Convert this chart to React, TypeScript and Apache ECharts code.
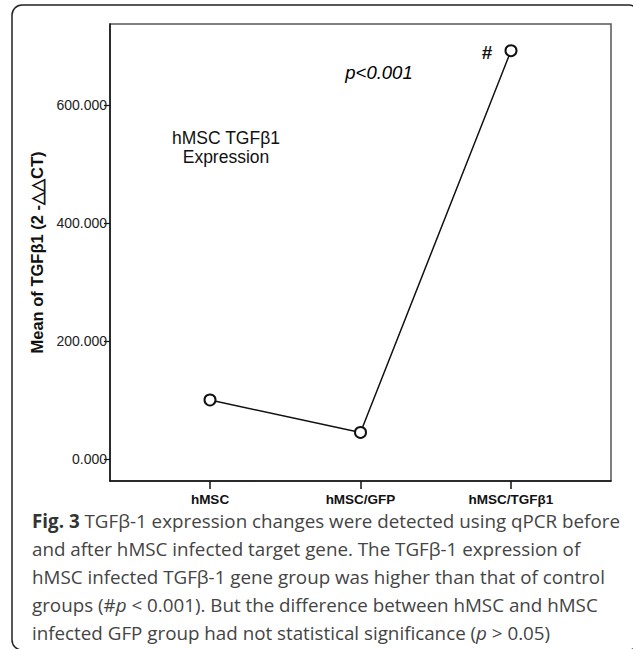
import React, { useEffect, useRef } from "react";
import * as echarts from "echarts";

const categories = ["hMSC", "hMSC/GFP", "hMSC/TGFβ1"];
const meanValues = [100, 45, 692];
const yTicks = [0, 200, 400, 600];
const captionLines = [
  "{b|Fig. 3} TGFβ-1 expression changes were detected using qPCR before",
  "and after hMSC infected target gene. The TGFβ-1 expression of",
  "hMSC infected TGFβ-1 gene group was higher than that of control",
  "groups (#{i|p} < 0.001). But the difference between hMSC and hMSC",
  "infected GFP group had not statistical significance ({i|p} > 0.05)",
];

export default function App() {
  const ref = useRef<HTMLDivElement>(null);
  useEffect(() => {
    document.body.style.margin = "0";
    if (!ref.current) return;
    const chart = echarts.init(ref.current, null, { renderer: "svg" });
    const sans = "'Liberation Sans', Arial, sans-serif";
    const cap = "'Open Sans', sans-serif";
    const lineTop = 521;
    const lineGap = 28;
    const capSize = 18.8;
    chart.setOption({
      animation: false,
      backgroundColor: "#ffffff",
      grid: {
        left: 110,
        top: 24,
        width: 501,
        height: 457,
        show: true,
        borderColor: "#555",
        borderWidth: 1.5,
        backgroundColor: "transparent",
      },
      xAxis: {
        type: "value",
        min: -0.6645,
        max: 2.6645,
        axisLine: { show: true, onZero: false, lineStyle: { color: "#111", width: 1.5 } },
        axisTick: { show: true, customValues: [0, 1, 2], length: 8, lineStyle: { color: "#111", width: 1.5 } },
        axisLabel: {
          customValues: [0, 1, 2],
          formatter: (v: number) => categories[Math.round(v)] ?? "",
          fontFamily: sans,
          fontWeight: "bold",
          fontSize: 13.5,
          color: "#111",
          margin: 11,
        },
        splitLine: { show: false },
      },
      yAxis: {
        type: "value",
        min: -37.3,
        max: 737.3,
        name: "Mean of TGFβ1 (2 -△△CT)",
        nameLocation: "middle",
        nameGap: 57,
        nameRotate: 90,
        nameTextStyle: { fontFamily: sans, fontWeight: "bold", fontSize: 16.5, color: "#111" },
        axisLine: { show: true, onZero: false, lineStyle: { color: "#111", width: 1.5 } },
        axisTick: { show: true, customValues: yTicks, length: 6, lineStyle: { color: "#111", width: 1.2 } },
        axisLabel: {
          customValues: yTicks,
          formatter: (v: number) => v.toFixed(3),
          fontFamily: sans,
          fontSize: 14,
          color: "#222",
          margin: 3,
        },
        splitLine: { show: false },
      },
      series: [
        {
          type: "line",
          data: meanValues.map((v, i) => [i, v]),
          symbol: "emptyCircle",
          symbolSize: 11,
          lineStyle: { color: "#111", width: 1.5 },
          itemStyle: { color: "#111", borderColor: "#111", borderWidth: 1 },
          z: 3,
        },
      ],
      graphic: [
        {
          type: "rect",
          shape: { x: 12, y: 5, width: 627, height: 645, r: 10 },
          style: { fill: "none", stroke: "#222", lineWidth: 1.5 },
          silent: true,
        },
        {
          type: "text",
          x: 226,
          y: 138,
          style: {
            text: "hMSC TGFβ1",
            fontFamily: sans,
            fontSize: 17.5,
            fill: "#111",
            align: "center",
            verticalAlign: "middle",
          },
        },
        {
          type: "text",
          x: 226,
          y: 157,
          style: {
            text: "Expression",
            fontFamily: sans,
            fontSize: 17.5,
            fill: "#111",
            align: "center",
            verticalAlign: "middle",
          },
        },
        {
          type: "text",
          x: 379,
          y: 72,
          style: {
            text: "p<0.001",
            fontFamily: sans,
            fontSize: 18.5,
            fontStyle: "italic",
            fill: "#000",
            align: "center",
            verticalAlign: "middle",
          },
        },
        {
          type: "text",
          x: 487,
          y: 52,
          style: {
            text: "#",
            fontFamily: sans,
            fontSize: 19,
            fontWeight: "bold",
            fill: "#111",
            align: "center",
            verticalAlign: "middle",
          },
        },
        ...captionLines.map((t, i) => ({
          type: "text",
          x: 32,
          y: lineTop + i * lineGap,
          style: {
            text: t,
            fontFamily: cap,
            fontSize: capSize,
            fill: "#444",
            align: "left",
            verticalAlign: "middle",
            rich: {
              b: { fontFamily: cap, fontSize: capSize, fontWeight: "bold", fill: "#333" },
              i: { fontFamily: cap, fontSize: capSize, fontStyle: "italic", fill: "#444" },
            },
          },
        })),
      ],
    });
    return () => chart.dispose();
  }, []);
  return <div ref={ref} style={{ width: 633, height: 649 }} />;
}
